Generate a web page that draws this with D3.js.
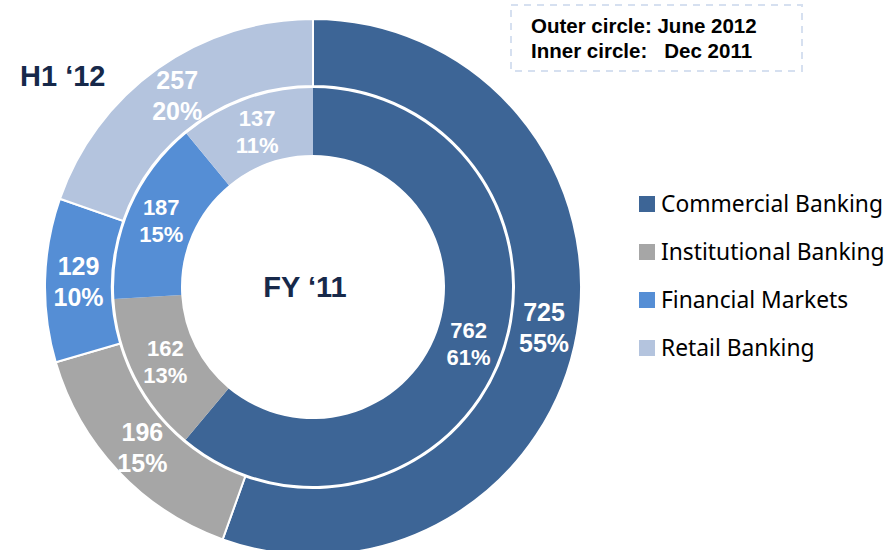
<!DOCTYPE html>
<html>
<head>
<meta charset="utf-8">
<script src="https://cdn.jsdelivr.net/npm/d3@7"></script>
<style>
  body { margin: 0; background: #fff; }
  svg { display: block; }
  .arial { font-family: "Liberation Sans", Arial, sans-serif; font-weight: bold; }
</style>
</head>
<body>
<div id="chart"></div>
<script>
// Werte
const categories = ["Commercial Banking", "Institutional Banking", "Financial Markets", "Retail Banking"];
const outerValues = [725, 196, 129, 257];   // June 2012 (H1 '12)
const innerValues = [762, 162, 187, 137];   // Dec 2011 (FY '11)
const colors = ["#3d6596", "#a6a6a6", "#558ed5", "#b4c4de"];
const noteLines = ["Outer circle: June 2012", "Inner circle:   Dec 2011"];

const width = 886, height = 550;
const cx = 313, cy = 287;

const svg = d3.select("#chart").append("svg")
    .attr("width", width)
    .attr("height", height);

const color = d3.scaleOrdinal().domain(categories).range(colors);

const pie = d3.pie().sort(null).value(d => d.value);

function ringData(values) {
    const total = d3.sum(values);
    return values.map((v, i) => ({ name: categories[i], value: v, pct: Math.round(v / total * 100) + "%" }));
}

const g = svg.append("g").attr("transform", `translate(${cx},${cy})`);

// Ringe zeichnen
function drawRing(values, r0, r1, stroke, fontSize, lineGap) {
    const arc = d3.arc().innerRadius(r0).outerRadius(r1);
    const arcs = pie(ringData(values));
    const ring = g.append("g");

    ring.selectAll("path")
        .data(arcs)
        .enter().append("path")
        .attr("d", arc)
        .attr("fill", d => color(d.data.name))
        .attr("stroke", stroke ? "#fff" : "none")
        .attr("stroke-width", stroke ? 2 : 0);

    const label = ring.selectAll("text")
        .data(arcs)
        .enter().append("text")
        .attr("class", "arial")
        .attr("transform", d => `translate(${arc.centroid(d)})`)
        .attr("text-anchor", "middle")
        .attr("fill", "#fff")
        .style("font-size", fontSize + "px");

    label.append("tspan")
        .attr("x", 0)
        .attr("y", -lineGap / 2 + fontSize * 0.36)
        .text(d => d.data.value);
    label.append("tspan")
        .attr("x", 0)
        .attr("y", lineGap / 2 + fontSize * 0.36)
        .text(d => d.data.pct);
}

drawRing(innerValues, 132, 199, false, 22, 27);
drawRing(outerValues, 201, 268, true, 25, 31);

// Titel
svg.append("text")
    .attr("class", "arial")
    .attr("x", 305).attr("y", 297)
    .attr("text-anchor", "middle")
    .style("font-size", "29px")
    .attr("fill", "#17294a")
    .text("FY \u201811");

svg.append("text")
    .attr("class", "arial")
    .attr("x", 20).attr("y", 86)
    .style("font-size", "29px")
    .attr("fill", "#17294a")
    .text("H1 \u201812");

// Hinweisbox
svg.append("rect")
    .attr("x", 511).attr("y", 5)
    .attr("width", 291).attr("height", 66)
    .attr("fill", "none")
    .attr("stroke", "#d6e0f0")
    .attr("stroke-width", 2)
    .attr("stroke-dasharray", "7,6");

svg.selectAll(".note")
    .data(noteLines)
    .enter().append("text")
    .attr("class", "note arial")
    .attr("x", 531)
    .attr("y", (d, i) => 33 + i * 25)
    .style("font-size", "20.5px")
    .attr("fill", "#000")
    .style("white-space", "pre")
    .text(d => d);

// Legende
const legend = svg.selectAll(".legend")
    .data(categories)
    .enter().append("g")
    .attr("class", "legend")
    .attr("transform", (d, i) => `translate(639, ${204 + i * 48})`);

legend.append("rect")
    .attr("x", 0).attr("y", -8)
    .attr("width", 16).attr("height", 16)
    .attr("fill", d => color(d));

legend.append("text")
    .attr("x", 22).attr("y", 8)
    .style("font-family", "'Noto Sans', sans-serif")
    .style("font-size", "22.8px")
    .attr("fill", "#000")
    .text(d => d);
</script>
</body>
</html>
